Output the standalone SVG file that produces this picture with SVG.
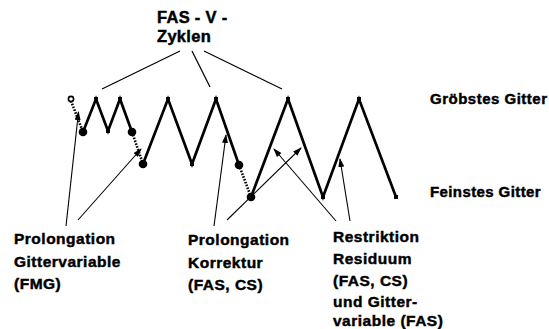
<svg xmlns="http://www.w3.org/2000/svg" width="549" height="329" viewBox="0 0 549 329">
<style>
text{font-family:"Liberation Sans",Arial,sans-serif;font-weight:bold;fill:#000;stroke:#000;stroke-width:0.45px;font-size:15.5px;letter-spacing:0.5px}
.cyc{fill:none;stroke:#000;stroke-width:2.7;stroke-linejoin:miter}
.dot{fill:none;stroke:#000;stroke-width:2.6;stroke-dasharray:1.6 1.4}
.thin{fill:none;stroke:#000;stroke-width:1.2}
.arr{fill:none;stroke:#000;stroke-width:1.1;marker-end:url(#ah)}
.sq{fill:#000}
.fc{fill:#000}
</style>
<defs>
<marker id="ah" markerWidth="9" markerHeight="6" refX="8" refY="3" orient="auto" markerUnits="userSpaceOnUse">
<path d="M0,0 L9,3 L0,6 Z" fill="#000"/>
</marker>
</defs>
<g id="title">
<text x="157" y="23" style="font-size:16.5px;letter-spacing:0.3px">FAS - V -</text>
<text x="157" y="42" style="font-size:16.5px;letter-spacing:0.3px">Zyklen</text>
</g>
<g id="cycle-lines">
<line class="thin" x1="180" y1="51" x2="102" y2="89"/>
<line class="thin" x1="192" y1="51" x2="210" y2="87"/>
<line class="thin" x1="204" y1="51" x2="282" y2="89"/>
</g>
<g id="cycles">
<polyline class="cyc" points="83,132 96,99 108,131 120,99 132,132"/>
<polyline class="cyc" points="143,164 168,99 192,164 216,99 239,165"/>
<polyline class="cyc" points="251,197 288,99 323,197 359,99 396,197"/>
<line class="dot" x1="71" y1="101" x2="83" y2="132"/>
<line class="dot" x1="132" y1="132" x2="143" y2="164"/>
<line class="dot" x1="239" y1="165" x2="251" y2="197"/>
</g>
<g id="nodes">
<circle cx="71" cy="99" r="2.6" fill="#fff" stroke="#000" stroke-width="1.6"/>
<rect class="sq" x="94" y="97" width="4" height="4"/>
<rect class="sq" x="118" y="97" width="4" height="4"/>
<rect class="sq" x="166" y="97" width="4" height="4"/>
<rect class="sq" x="214" y="97" width="4" height="4"/>
<rect class="sq" x="286" y="97" width="4" height="4"/>
<rect class="sq" x="357" y="97" width="4" height="4"/>
<rect class="sq" x="106" y="129" width="4" height="4"/>
<rect class="sq" x="190" y="162" width="4" height="4"/>
<rect class="sq" x="321" y="195" width="4" height="4"/>
<rect class="sq" x="394" y="195" width="4" height="4"/>
<circle class="fc" cx="83" cy="132" r="4.3"/>
<circle class="fc" cx="132" cy="132" r="4.3"/>
<circle class="fc" cx="143" cy="164" r="4.3"/>
<circle class="fc" cx="239" cy="165" r="4.3"/>
<circle class="fc" cx="251" cy="197" r="4.3"/>
</g>
<g id="connectors">
<line class="arr" x1="66" y1="226" x2="78.5" y2="112"/>
<line class="arr" x1="78" y1="220" x2="141" y2="149"/>
<line class="arr" x1="214" y1="226" x2="226" y2="135"/>
<line class="arr" x1="227" y1="220" x2="301" y2="148"/>
<line class="arr" x1="336" y1="221" x2="274" y2="149"/>
<line class="arr" x1="350" y1="221" x2="340" y2="159"/>
</g>
<g id="label-coarse"><text x="430" y="104" style="font-size:15px;letter-spacing:0.5px">Gröbstes Gitter</text></g>
<g id="label-fine"><text x="430" y="197" style="font-size:15px;letter-spacing:0.4px">Feinstes Gitter</text></g>
<g id="label-fmg">
<text x="14" y="244">Prolongation</text>
<text x="14" y="267">Gittervariable</text>
<text x="14" y="289">(FMG)</text>
</g>
<g id="label-korrektur">
<text x="188" y="245">Prolongation</text>
<text x="188" y="268">Korrektur</text>
<text x="188" y="290">(FAS, CS)</text>
</g>
<g id="label-restriktion">
<text x="333" y="242">Restriktion</text>
<text x="333" y="264">Residuum</text>
<text x="333" y="286">(FAS, CS)</text>
<text x="333" y="307">und Gitter-</text>
<text x="333" y="326">variable (FAS)</text>
</g>
</svg>
